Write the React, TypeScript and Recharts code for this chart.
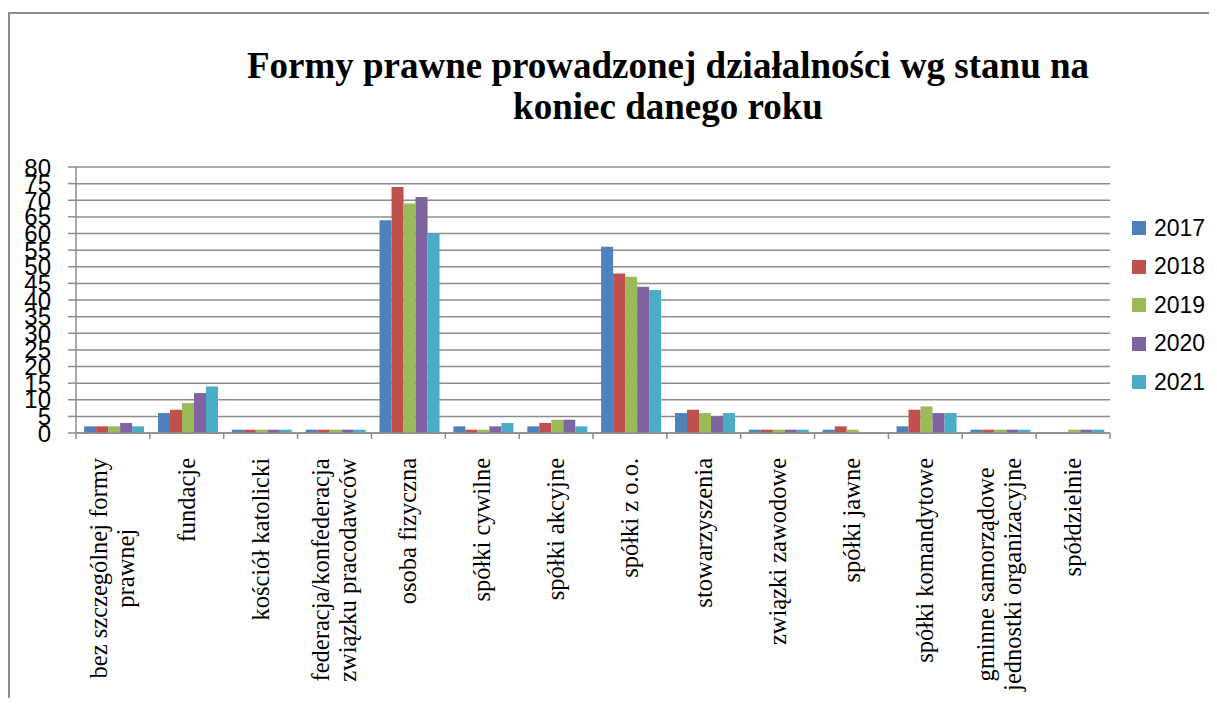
import React from 'react';
import { BarChart, Bar, XAxis, YAxis, CartesianGrid } from 'recharts';

// category names, "\n" marks where the label wraps
const categories = [
  'bez szczególnej formy\nprawnej',
  'fundacje',
  'kościół katolicki',
  'federacja/konfederacja\nzwiązku pracodawców',
  'osoba fizyczna',
  'spółki cywilne',
  'spółki akcyjne',
  'spółki z o.o.',
  'stowarzyszenia',
  'związki zawodowe',
  'spółki jawne',
  'spółki komandytowe',
  'gminne samorządowe\njednostki organizacyjne',
  'spółdzielnie',
];

const years = ['2017', '2018', '2019', '2020', '2021'];

const v2017 = [2, 6, 1, 1, 64, 2, 2, 56, 6, 1, 1, 2, 1, 0];
const v2018 = [2, 7, 1, 1, 74, 1, 3, 48, 7, 1, 2, 7, 1, 0];
const v2019 = [2, 9, 1, 1, 69, 1, 4, 47, 6, 1, 1, 8, 1, 1];
const v2020 = [3, 12, 1, 1, 71, 2, 4, 44, 5, 1, 0, 6, 1, 1];
const v2021 = [2, 14, 1, 1, 60, 3, 2, 43, 6, 1, 0, 6, 1, 1];

const yTicks = [0, 5, 10, 15, 20, 25, 30, 35, 40, 45, 50, 55, 60, 65, 70, 75, 80];

const colors = ['#4F81BD', '#C0504D', '#9BBB59', '#8064A2', '#4BACC6'];

const title = ['Formy prawne prowadzonej działalności wg stanu na', 'koniec danego roku'];

const allValues = [v2017, v2018, v2019, v2020, v2021];
const data = categories.map((name, i) => {
  const row: Record<string, any> = { name };
  years.forEach((y, k) => {
    row[y] = allValues[k][i];
  });
  return row;
});

const W = 1209;
const H = 690;
const MARGIN = { top: 159, right: 107, bottom: 3, left: 0 };
const Y_W = 68;
const PLOT_W = W - MARGIN.right - MARGIN.left - Y_W;
const BAND = PLOT_W / categories.length;
const LABEL_FONT = 24.5;
const GRID = '#8c8c8c';

let ctx: CanvasRenderingContext2D | null = null;
const measure = (s: string) => {
  if (!ctx) {
    const c = document.createElement('canvas');
    ctx = c.getContext('2d');
  }
  if (!ctx) return s.length * LABEL_FONT * 0.45;
  ctx.font = `${LABEL_FONT}px "Liberation Serif"`;
  return ctx.measureText(s).width;
};

const CategoryTick = (props: any) => {
  const { x, y, payload, index } = props;
  const lines: string[] = String(payload.value).split('\n');
  const maxW = Math.max(...lines.map(measure));
  const axisY = y - 25;
  const n = lines.length;
  return (
    <g>
      <line x1={x - BAND / 2} x2={x - BAND / 2} y1={axisY} y2={axisY + 6} stroke={GRID} strokeWidth={1.5} />
      {index === categories.length - 1 && (
        <line x1={x + BAND / 2} x2={x + BAND / 2} y1={axisY} y2={axisY + 6} stroke={GRID} strokeWidth={1.5} />
      )}
      <g transform={`translate(${x},${y}) rotate(-90)`}>
        {lines.map((l, i) => (
          <text
            key={i}
            x={-maxW / 2}
            y={8 + (i - (n - 1) / 2) * 27}
            textAnchor="middle"
            fontFamily="'Liberation Serif', serif"
            fontSize={LABEL_FONT}
            fill="#000"
          >
            {l}
          </text>
        ))}
      </g>
    </g>
  );
};

const LegendBox = () => (
  <div style={{ position: 'absolute', left: 1124, top: 201, width: 85 }}>
    {years.map((y, i) => (
      <div key={y} style={{ display: 'flex', alignItems: 'center', height: 38.5 }}>
        <div style={{ width: 14, height: 14, background: colors[i], marginRight: 8 }} />
        <span style={{ fontFamily: "'Liberation Sans', sans-serif", fontSize: 23, color: '#000' }}>{y}</span>
      </div>
    ))}
  </div>
);

export default function App() {
  return (
    <div style={{ position: 'relative', width: W, height: H, background: '#fff' }}>
      <div
        style={{
          position: 'absolute',
          left: 0,
          top: 4,
          width: W,
          height: H - 4,
          borderLeft: '2px solid #8c8c8c',
          borderTop: '2px solid #8c8c8c',
          boxSizing: 'border-box',
        }}
      />
      <div
        style={{
          position: 'absolute',
          left: 0,
          top: 37,
          width: 1320,
          textAlign: 'center',
          fontFamily: "'Liberation Serif', serif",
          fontWeight: 'bold',
          fontSize: 37,
          lineHeight: '41px',
          color: '#000',
        }}
      >
        {title.map((t) => (
          <div key={t}>{t}</div>
        ))}
      </div>
      <div style={{ position: 'absolute', left: 0, top: 0 }}>
        <BarChart width={W} height={H} data={data} margin={MARGIN} barCategoryGap="11%" barGap={0}>
          <CartesianGrid vertical={false} stroke={GRID} strokeWidth={1.5} />
          <XAxis
            dataKey="name"
            interval={0}
            height={262}
            tickSize={6}
            tickMargin={19}
            tickLine={false}
            axisLine={{ stroke: GRID, strokeWidth: 1.5 }}
            tick={<CategoryTick />}
          />
          <YAxis
            width={Y_W}
            domain={[0, 80]}
            ticks={yTicks}
            interval={0}
            tickSize={8}
            tickMargin={17}
            tickLine={{ stroke: GRID, strokeWidth: 1.5 }}
            axisLine={{ stroke: GRID, strokeWidth: 1.5 }}
            tick={{ fill: '#000', fontSize: 24, fontFamily: "'Liberation Sans', sans-serif" }}
          />
          {years.map((y, i) => (
            <Bar key={y} dataKey={y} fill={colors[i]} isAnimationActive={false} />
          ))}
        </BarChart>
      </div>
      <LegendBox />
    </div>
  );
}
